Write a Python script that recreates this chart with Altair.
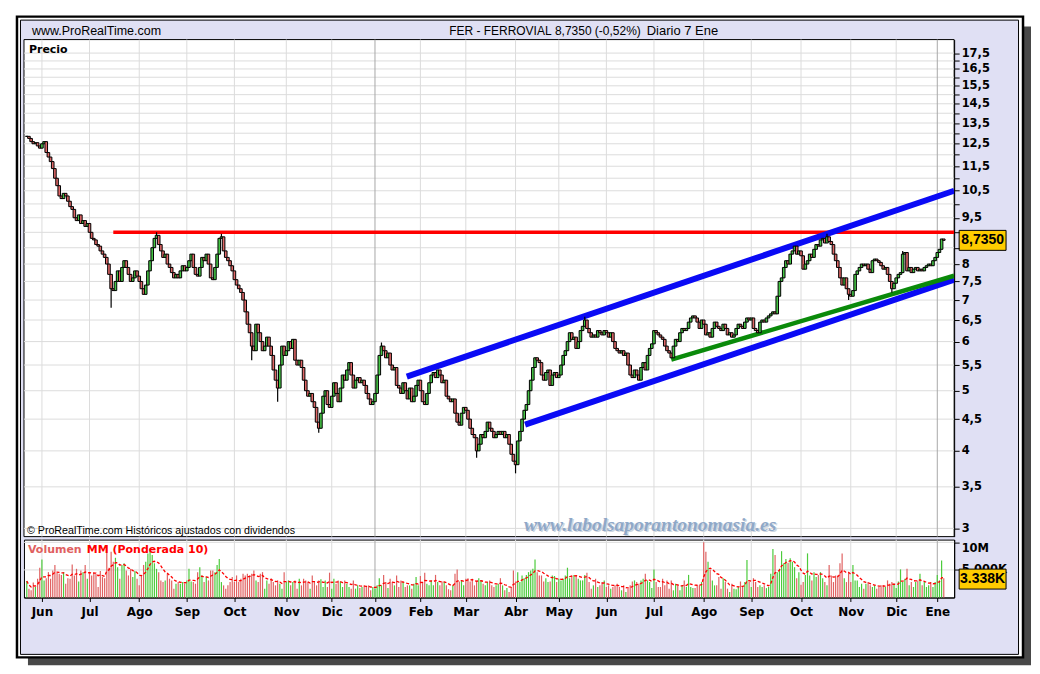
import altair as alt
import pandas as pd
import numpy as np

# ---------------- data ----------------
closes = [
    12.85, 12.75, 12.6, 12.5, 12.55, 12.4, 12.3, 12.5, 12.6, 12.1,
    11.9, 11.7, 11.4, 11.0, 10.7, 10.3, 10.2, 10.4, 10.3, 10.1,
    9.9, 9.8, 9.5, 9.4, 9.6, 9.3, 9.4, 9.2, 9.3, 9.0,
    8.8, 8.75, 8.6, 8.55, 8.4, 8.3, 8.2, 8.0, 7.7, 7.3,
    7.25, 7.5, 7.8, 7.5, 7.9, 8.1, 7.9, 7.7, 7.5, 7.6,
    7.8, 7.65, 7.5, 7.3, 7.15, 7.4, 7.8, 8.1, 8.5, 8.8,
    8.9, 8.6, 8.4, 8.2, 8.3, 8.0, 7.9, 7.75, 7.6, 7.7,
    7.6, 7.8, 7.95, 7.8, 7.9, 8.1, 8.3, 7.9, 7.7, 7.65,
    7.9, 8.2, 8.1, 8.3, 8.0, 7.6, 7.55, 7.9, 8.3, 8.8,
    8.85, 8.4, 8.2, 8.1, 7.95, 7.8, 7.55, 7.4, 7.3, 7.2,
    7.0, 6.7, 6.4, 6.2, 5.9, 5.8, 6.4, 6.2, 6.0, 5.8,
    5.9, 6.1, 5.9, 5.7, 5.4, 5.2, 5.05, 5.5, 5.9, 5.7,
    5.8, 6.0, 5.85, 6.05, 5.6, 5.5, 5.6, 5.45, 5.2, 5.0,
    4.9, 4.95, 4.8, 4.7, 4.45, 4.35, 4.6, 4.9, 5.0, 4.75,
    4.7, 4.9, 5.15, 4.95, 4.8, 5.05, 5.3, 5.2, 5.4, 5.55,
    5.3, 5.05, 5.2, 5.25, 5.15, 5.2, 5.1, 4.95, 4.85, 4.75,
    4.8, 4.95, 5.3, 5.7, 5.9, 5.8, 5.65, 5.75, 5.5, 5.4,
    5.45, 5.1, 5.05, 4.95, 5.15, 5.0, 4.85, 5.05, 4.8, 4.9,
    5.1, 5.2, 5.0, 4.8, 4.75, 4.95, 5.15, 5.3, 5.35, 5.25,
    5.4, 5.3, 5.15, 5.2, 4.9, 4.85, 4.8, 4.85, 4.6, 4.45,
    4.4, 4.6, 4.7, 4.65, 4.5, 4.35, 4.25, 4.2, 4.0, 4.1,
    4.25, 4.2, 4.3, 4.45, 4.35, 4.3, 4.2, 4.25, 4.3, 4.25,
    4.3, 4.2, 4.25, 4.1, 3.95, 3.85, 3.8, 4.15, 4.3, 4.5,
    4.65, 4.75, 5.0, 5.2, 5.45, 5.65, 5.6, 5.55, 5.3, 5.2,
    5.35, 5.4, 5.1, 5.3, 5.35, 5.25, 5.3, 5.5, 5.7, 5.8,
    6.0, 6.2, 6.05, 6.1, 5.85, 6.0, 6.25, 6.35, 6.5, 6.3,
    6.2, 6.1, 6.15, 6.1, 6.25, 6.2, 6.15, 6.25, 6.2, 6.1,
    6.2, 6.0, 5.85, 5.8, 5.75, 5.8, 5.7, 5.75, 5.5, 5.3,
    5.25, 5.4, 5.3, 5.2, 5.45, 5.55, 5.4, 5.7, 5.85, 5.95,
    6.25, 6.2, 6.15, 6.1, 6.05, 5.9, 5.8, 5.75, 5.65, 5.9,
    6.05, 6.0, 6.2, 6.3, 6.25, 6.3, 6.45, 6.55, 6.6, 6.55,
    6.45, 6.3, 6.5, 6.4, 6.15, 6.2, 6.1, 6.3, 6.45, 6.35,
    6.3, 6.25, 6.4, 6.3, 6.15, 6.2, 6.1, 6.15, 6.3, 6.4,
    6.35, 6.3, 6.45, 6.55, 6.5, 6.55, 6.3, 6.25, 6.2, 6.45,
    6.5, 6.45, 6.55, 6.6, 6.65, 6.7, 6.65, 7.1, 7.5, 7.6,
    7.9, 8.1, 8.0, 8.3, 8.4, 8.55, 8.3, 8.4, 8.25, 7.85,
    8.0, 8.1, 8.3, 8.2, 8.45, 8.6, 8.55, 8.75, 8.8, 8.65,
    8.85, 8.7, 8.6, 8.3, 8.1, 7.9, 7.6, 7.4, 7.6, 7.3,
    7.15, 7.1, 7.25, 7.7, 7.8, 7.9, 8.0, 7.95, 8.0, 7.85,
    7.75, 8.1, 8.15, 8.1, 8.05, 7.95, 7.85, 7.9, 7.7, 7.5,
    7.3, 7.45, 7.6, 7.7, 7.75, 8.3, 8.35, 7.8, 7.9, 7.75,
    7.85, 7.9, 7.8, 7.85, 7.8, 7.9, 7.95, 8.0, 7.95, 8.1,
    8.2, 8.35, 8.45, 8.78, 8.735,
]

low_spike_idx = [39, 104, 116, 135, 208, 226, 380, 400]
low_spike_val = [6.8, 5.6, 4.8, 4.28, 3.9, 3.68, 7.0, 7.2]
high_spike_idx = [60, 90, 164, 258, 370, 405]
high_spike_val = [9.0, 8.95, 5.98, 6.58, 8.95, 8.4]

# volume in millions of shares
vol_a = [
    3.0, 1.6, 1.3, 2.7, 1.9, 3.4, 5.4, 6.9, 3.1, 3.5,
    4.6, 3.4, 4.9, 5.9, 4.5, 4.3, 4.1, 4.6, 2.5, 3.5,
    3.4, 6.0, 4.0, 5.2, 2.9, 4.9, 4.6, 5.9, 3.4, 4.6,
    4.0, 4.6, 4.3, 1.9, 4.8, 3.7, 3.5, 9.5, 5.4, 8.3,
    6.5, 7.2, 5.5, 3.4, 5.9, 6.2, 4.9, 4.0, 5.2, 3.7,
    4.8, 3.4, 2.2, 4.0, 5.9, 6.5, 8.0, 8.9, 7.7, 6.2,
    5.2, 4.6, 3.1, 2.8, 3.1, 4.3, 3.4, 3.1, 1.6, 2.5,
    2.8, 2.5, 2.8, 2.5, 3.1, 5.2, 2.9, 2.8, 2.5, 4.6,
    5.5, 4.0, 2.8, 3.7, 3.1, 4.9, 4.9, 4.6, 5.9, 7.0,
    2.8, 2.2, 1.6, 2.2, 2.8, 3.7, 2.8, 4.0, 2.8, 3.4,
    4.3, 4.0, 4.3, 4.0, 4.3, 4.9, 3.1, 2.8, 4.3, 4.6,
    1.6, 3.1, 2.5, 3.5, 2.8, 2.2, 3.1, 2.5, 1.6, 4.6,
    2.8, 3.1, 2.2, 2.8, 3.1, 1.6, 3.4, 2.2, 3.4, 3.1,
    2.8, 1.6, 4.0, 2.8, 2.2, 3.1, 3.3, 1.9, 3.1, 1.9,
    4.5, 1.6, 3.4, 2.5, 3.1,
]
vol_b = [
    2.9, 1.9, 3.1, 2.5, 1.9, 1.6, 3.1, 1.6, 2.2, 1.7,
    1.9, 2.2, 1.9, 2.2, 1.3, 1.9, 1.6, 2.2, 3.5, 2.2,
    4.1, 2.8, 1.7, 3.4, 2.8, 2.2, 4.0, 1.9, 3.1, 2.8,
    1.9, 2.2, 2.2, 1.6, 2.5, 3.7, 2.2, 3.9, 2.8, 4.5,
    2.5, 2.2, 3.1, 2.2, 4.1, 2.8, 2.2, 2.9, 2.8, 2.2,
    1.5, 1.3, 2.2, 4.3, 5.1, 2.9, 3.1, 2.2, 3.4, 3.5,
    2.9, 3.4, 2.2, 2.8, 3.5, 3.1, 2.5, 2.2, 2.8, 3.1,
    2.2, 1.9, 2.2, 2.5, 3.5, 2.2, 1.3, 1.7, 1.0, 1.9,
    4.9, 2.9, 4.6, 2.8, 4.0, 3.5, 4.1, 4.6, 4.9, 5.2,
    6.9, 4.6, 4.0, 4.0, 2.9, 3.5, 2.8, 2.9, 4.0, 3.9,
    2.8, 3.4, 3.1, 3.4, 4.0, 5.4, 3.5, 4.0, 4.1, 3.9,
    3.4, 3.1, 3.1, 4.1, 4.5, 2.8, 1.6, 2.2, 3.4, 1.9,
    2.2, 2.8, 3.1, 1.9, 2.2, 1.6, 1.9, 2.2, 2.5, 1.9,
    1.3, 2.2, 1.0, 1.6, 2.2, 2.9, 3.1, 2.8, 2.5, 3.1,
    3.4, 4.3, 3.1,
]
vol_c = [
    2.8, 1.7, 5.1, 2.8, 1.9, 1.9, 3.4, 2.2, 3.1, 1.6,
    3.1, 1.3, 2.5, 2.2, 1.3, 2.2, 3.1, 1.9, 4.1, 1.9,
    1.7, 1.7, 2.2, 2.2, 2.8, 10.0, 8.3, 6.5, 5.1, 3.1,
    2.2, 2.2, 3.7, 1.6, 3.5, 2.8, 1.6, 1.0, 2.5,
    1.6, 1.5, 1.9, 2.9, 1.9, 2.8, 6.8, 2.8, 1.9, 3.5,
    2.8, 1.9, 2.2, 1.9, 2.2, 1.7, 1.9, 4.3,
    8.8, 7.7, 4.6, 5.2, 8.4, 6.2, 7.0, 6.3, 7.1, 6.5,
    5.5, 3.5, 4.6, 2.3, 2.8, 4.1, 8.0, 4.0, 3.1, 4.6,
    3.7, 4.1, 4.6, 3.5, 2.8, 2.2, 5.9, 4.0, 2.8, 4.0,
    4.0, 6.2, 8.0, 3.5, 2.8, 4.6, 2.8, 5.9, 3.1, 3.1,
    1.9, 2.5, 1.6, 2.5, 2.8, 2.2, 1.9, 2.2, 1.6,
    1.9, 2.2, 2.2, 1.9, 3.1, 2.5, 2.8, 2.5, 1.7, 2.9,
    5.1, 2.8, 3.4, 5.2, 2.2, 2.8, 1.9, 2.8, 3.1, 4.3,
    2.2, 2.8, 1.9, 2.2, 2.8, 1.9, 2.8, 4.1, 3.1, 6.7,
    3.5,
]
volumes = vol_a + vol_b + vol_c
assert len(volumes) == len(closes), (len(volumes), len(closes))

# month ticks (trading-day index of each month start) and labels
month_idx = [7, 29, 52, 74, 96, 120, 141, 161, 182, 203,
             226, 246, 268, 290, 313, 335, 358, 381, 402, 421]
month_lbl = ['Jun', 'Jul', 'Ago', 'Sep', 'Oct', 'Nov', 'Dic', '2009', 'Feb', 'Mar',
             'Abr', 'May', 'Jun', 'Jul', 'Ago', 'Sep', 'Oct', 'Nov', 'Dic', 'Ene']
year_start_lbl = ['2009', 'Ene']

# price axis ticks
price_ticks = [3, 3.5, 4, 4.5, 5, 5.5, 6, 6.5, 7, 7.5, 8, 8.5, 9, 9.5,
               10, 10.5, 11, 11.5, 12, 12.5, 13, 13.5, 14, 14.5, 15, 15.5,
               16, 16.5, 17, 17.5]
# ticks without a visible label (covered by the last-price box, or minor ticks)
price_unlabeled = [8.5, 9, 10, 11, 12, 13, 14, 15, 16, 17]

# trend lines (trading-day index, price)
red_x = [40, 428.8]
red_y = [9.0, 9.0]
blue_up_x = [175.7, 428.8]
blue_up_y = [5.27, 10.5]
blue_lo_x = [230.4, 428.8]
blue_lo_y = [4.41, 7.55]
green_x = [298, 428.8]
green_y = [5.61, 7.66]

vol_ticks = [5, 10]
vol_tick_lbl = ['5.000K', '10M']
last_vol = 3.338
last_vol_lbl = '3.338K'

# ---------------- tables ----------------
n = len(closes)
opens = [closes[0]] + closes[:-1]
lows = [min(o, c) for o, c in zip(opens, closes)]
highs = [max(o, c) for o, c in zip(opens, closes)]
for i, v in zip(low_spike_idx, low_spike_val):
    lows[i] = min(lows[i], v)
for i, v in zip(high_spike_idx, high_spike_val):
    highs[i] = max(highs[i], v)

df = pd.DataFrame({
    'd': list(range(n)),
    'o': opens, 'c': closes, 'lo': lows, 'hi': highs,
    'bl': [min(o, c) for o, c in zip(opens, closes)],
    'bh': [max(o, c) for o, c in zip(opens, closes)],
    'up': [c >= o for o, c in zip(opens, closes)],
    'v': volumes,
})
# weighted moving average (10)
w = np.arange(1, 11)
vv = np.array(volumes)
wma = []
for i in range(n):
    seg = vv[max(0, i - 9):i + 1]
    ww = w[-len(seg):]
    wma.append(float((seg * ww).sum() / ww.sum()))
df['wma'] = wma

months = pd.DataFrame({'d': month_idx, 'lbl': month_lbl,
                       'yr': [l in year_start_lbl for l in month_lbl]})
hgrid = pd.DataFrame({'p': price_ticks})
one = pd.DataFrame({'k': [0]})

# ---------------- styles ----------------
W, H, VH = 932, 498, 58
LAV = '#E0E0F4'
GREEN = '#45C445'
RED = '#E06767'
GRID = '#DCDCDC'
LBLFONT = 'DejaVu Sans'
HDRFONT = 'Liberation Sans'

xscale = alt.Scale(domain=[-1.3, 428.8], nice=False, zero=False, padding=0)
yscale = alt.Scale(type='log', domain=[2.91, 18.4], nice=False, zero=False, padding=0)
vscale = alt.Scale(domain=[0, 10.5], nice=False, zero=True, padding=0)

unl = ','.join(str(v) for v in price_unlabeled)
yaxis = alt.Axis(
    orient='right', values=price_ticks, title=None, grid=False,
    labelExpr=f"indexof([{unl}], datum.value) >= 0 ? '' : replace(format(datum.value, '.1~f'), '.', ',')",
    tickSize=5, tickColor='black', domainColor='black', labelColor='black',
    labelFont=LBLFONT, labelFontWeight='bold', labelFontSize=11.5, labelPadding=2,
    labelBaseline='middle', zindex=1,
)
m_idx = ','.join(str(v) for v in month_idx)
m_lbl = ','.join(f"'{v}'" for v in month_lbl)
xaxis = alt.Axis(
    orient='bottom', values=month_idx, title=None, grid=False,
    labelExpr=f"[{m_lbl}][indexof([{m_idx}], datum.value)]",
    tickSize=4, tickColor='black', domainColor='black', labelColor='black',
    labelFont=LBLFONT, labelFontWeight='bold', labelFontSize=12, labelPadding=5,
    labelFlush=False, labelOverlap=False,
)
v_idx = ','.join(str(v) for v in vol_ticks)
v_lbl = ','.join(f"'{v}'" for v in vol_tick_lbl)
vaxis = alt.Axis(
    orient='right', values=vol_ticks, title=None, grid=False,
    labelExpr=f"[{v_lbl}][indexof([{v_idx}], datum.value)]",
    tickSize=5, tickColor='black', domainColor='black', labelColor='black',
    labelFont=LBLFONT, labelFontWeight='bold', labelFontSize=11.5, labelPadding=2,
    labelBaseline='middle', labelFlush=False,
    labelOffset={'condition': {'test': 'datum.value >= 10', 'value': 6}, 'value': 0},
)


def deco(x, x2, y, y2, **kw):
    return alt.Chart(one).mark_rect(**kw).encode(
        x=alt.value(x), x2=alt.value(x2), y=alt.value(y), y2=alt.value(y2))


def label(text, x, y, **kw):
    return alt.Chart(one).mark_text(text=text, **kw).encode(x=alt.value(x), y=alt.value(y))


X = lambda f='d:Q': alt.X(f, scale=xscale, axis=None)
XV = lambda f='d:Q': alt.X(f, scale=xscale, axis=xaxis)
UPCOL = lambda g, r: alt.condition('datum.up', alt.value(g), alt.value(r))

# ---------------- price panel ----------------
shadow = deco(4, 1009, -13, 627, fill='#484848')
outer = deco(-7, 1001, -23, 619, fill='white', stroke='black', strokeWidth=2.5)
inner = deco(-3.5, 996.5, -19.5, 616, fill=LAV, stroke='black', strokeWidth=1)
plotbg = deco(0, W, 0, H, fill='white', stroke='black', strokeWidth=1)

hdr1 = label('www.ProRealTime.com', 8, -9, align='left', baseline='middle', font=HDRFONT, fontSize=12.5, color='black')
hdr2 = label('FER - FERROVIAL', 426, -9, align='left', baseline='middle', font=HDRFONT, fontSize=12, color='black')
hdr3 = label('8,7350 (-0,52%)', 532, -9, align='left', baseline='middle', font=HDRFONT, fontSize=12, color='black')
hdr4 = label('Diario  7 Ene', 624, -9, align='left', baseline='middle', font=HDRFONT, fontSize=13, color='black')

hg = alt.Chart(hgrid).mark_rule(color=GRID, strokeWidth=1).encode(
    y=alt.Y('p:Q', scale=yscale, axis=yaxis))
vg = alt.Chart(months).mark_rule(strokeWidth=1).encode(
    x=X(), color=alt.condition('datum.yr', alt.value('#A8A8A8'), alt.value(GRID)))

precio = label('Precio', 5, 10, align='left', baseline='middle', font=LBLFONT, fontWeight='bold', fontSize=11, color='black')
copy = label('© ProRealTime.com  Históricos ajustados con dividendos', 3, 492, align='left', baseline='middle',
             font='Liberation Sans', fontSize=10.7, color='black')
wm_sh = label('www.labolsaporantonomasia.es', 502.5, 487.5, align='left', baseline='middle',
              font='Liberation Serif', fontStyle='italic', fontWeight='bold', fontSize=19.5, color='#CDD5E0')
wm = label('www.labolsaporantonomasia.es', 501, 486, align='left', baseline='middle',
           font='Liberation Serif', fontStyle='italic', fontWeight='bold', fontSize=19.5, color='#8FA8C8')

wick = alt.Chart(df).mark_rule(color='black', strokeWidth=1.2).encode(
    x=X(), y=alt.Y('lo:Q', scale=yscale, axis=yaxis), y2='hi:Q')
body = alt.Chart(df).mark_bar(size=2.6, stroke='black', strokeWidth=1).encode(
    x=X(), y=alt.Y('bl:Q', scale=yscale, axis=yaxis), y2='bh:Q',
    color=UPCOL(GREEN, RED))

trend_sets = [(red_x, red_y, '#FF0000', 3.5), (blue_up_x, blue_up_y, '#0A0AF5', 6),
              (blue_lo_x, blue_lo_y, '#0A0AF5', 6), (green_x, green_y, '#0A8A0A', 4.5)]
tls = [alt.Chart(pd.DataFrame({'d': xs, 'p': ys})).mark_line(color=col, strokeWidth=sw, strokeCap='butt').encode(
    x=X(), y=alt.Y('p:Q', scale=yscale, axis=yaxis)) for xs, ys, col, sw in trend_sets]

last_close = closes[-1]
last_txt = f'{last_close:.4f}'.replace('.', ',')
pbox = alt.Chart(one).mark_rect(fill='#FFCC00', stroke='black', strokeWidth=1, yOffset=-10, y2Offset=10).encode(
    x=alt.value(937), x2=alt.value(984),
    y=alt.YDatum(last_close, scale=yscale, axis=yaxis), y2=alt.Y2Datum(last_close))
ptxt = alt.Chart(one).mark_text(text=last_txt, font='Liberation Sans', fontWeight='bold', fontSize=14,
                                color='black', align='center', baseline='middle').encode(
    x=alt.value(960.5), y=alt.YDatum(last_close, scale=yscale, axis=yaxis))

price = alt.layer(
    shadow, outer, inner, plotbg, hdr1, hdr2, hdr3, hdr4,
    hg, vg, precio, copy, wm_sh, wm, *tls, wick, body, pbox, ptxt,
).properties(width=W, height=H)

# ---------------- volume panel ----------------
vhg = alt.Chart(pd.DataFrame({'v': vol_ticks})).mark_rule(color=GRID, strokeWidth=1).encode(
    y=alt.Y('v:Q', scale=vscale, axis=vaxis))
vvg = alt.Chart(months).mark_rule(strokeWidth=1).encode(
    x=XV(), color=alt.condition('datum.yr', alt.value('#A8A8A8'), alt.value(GRID)))
vbars = alt.Chart(df).mark_bar(size=1.2).encode(
    x=XV(), y=alt.Y('v:Q', scale=vscale, axis=vaxis),
    color=UPCOL('#4CCB3C', '#E06262'))
vma = alt.Chart(df).mark_line(color='#FF0000', strokeWidth=1.3, strokeDash=[3, 2]).encode(
    x=XV(), y=alt.Y('wma:Q', scale=vscale, axis=vaxis))
vl1 = label('Volumen', 4, 10, align='left', baseline='middle', font=LBLFONT, fontWeight='bold', fontSize=11, color='#E06060')
vl2 = label('MM (Ponderada 10)', 63, 10, align='left', baseline='middle', font=LBLFONT, fontWeight='bold', fontSize=11, color='#FF0000')
vbox = alt.Chart(one).mark_rect(fill='#FFCC00', stroke='black', strokeWidth=1, yOffset=-10, y2Offset=10).encode(
    x=alt.value(937), x2=alt.value(984),
    y=alt.YDatum(last_vol, scale=vscale, axis=vaxis), y2=alt.Y2Datum(last_vol))
vtxt = alt.Chart(one).mark_text(text=last_vol_lbl, font='Liberation Sans', fontWeight='bold', fontSize=14,
                                color='black', align='center', baseline='middle').encode(
    x=alt.value(960.5), y=alt.YDatum(last_vol, scale=vscale, axis=vaxis))

volume = alt.layer(vhg, vvg, vbars, vma, vl1, vl2, vbox, vtxt).properties(width=W, height=VH)

chart = alt.vconcat(price, volume, spacing=3, bounds='flush').properties(
    padding={'left': 7, 'top': 6, 'right': 0, 'bottom': 0},
    background='white',
).configure_view(stroke='black', strokeWidth=1, fill='white')

chart.save('out.html', embed_options={'renderer': 'svg', 'actions': False})
